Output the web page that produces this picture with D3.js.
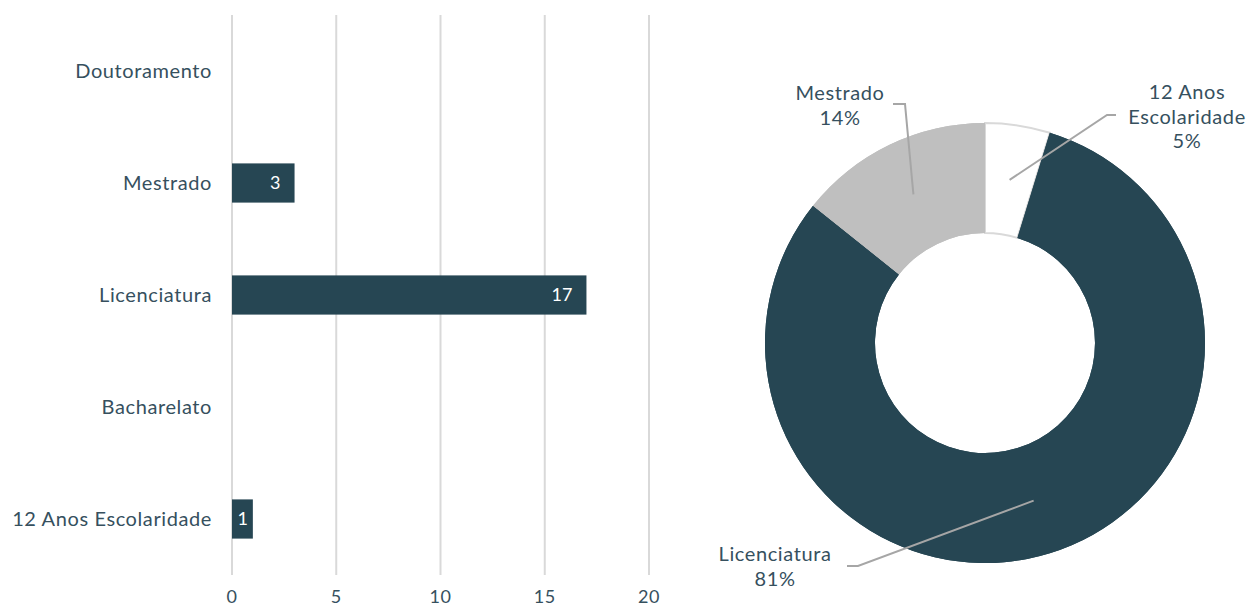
<!DOCTYPE html>
<html><head><meta charset="utf-8">
<script src="https://cdn.jsdelivr.net/npm/d3@7"></script>
<style>body{margin:0;background:#fff}svg{display:block}text{font-family:Lato,"Open Sans",sans-serif}</style>
</head><body>
<svg id="c" width="1251" height="609"></svg>
<script>
const categories = ["Doutoramento","Mestrado","Licenciatura","Bacharelato","12 Anos Escolaridade"];
const counts = [0,3,17,0,1];
const xTicks = [0,5,10,15,20];
const pieOrder = ["12 Anos Escolaridade","Bacharelato","Licenciatura","Doutoramento","Mestrado"];
const pieLabels = {"12 Anos Escolaridade":["12 Anos","Escolaridade"],"Mestrado":["Mestrado"],"Licenciatura":["Licenciatura"]};

const dark = "#264653", textCol = "#36505e", grid = "#d9d9d9";
const svg = d3.select("#c");
const fs = 20, ls = "0.6px";

// Bar chart
const x = d3.scaleLinear().domain([0,20]).range([232,649]);
const y = d3.scaleBand().domain(categories).range([15,575]).paddingInner(0.65).paddingOuter(0.325);
const g = svg.append("g");
g.selectAll("line.grid").data(xTicks).join("line")
  .attr("x1",d=>x(d)).attr("x2",d=>x(d)).attr("y1",15).attr("y2",575)
  .attr("stroke",grid).attr("stroke-width",2);
g.selectAll("text.tick").data(xTicks).join("text")
  .attr("x",d=>x(d)).attr("y",603).attr("text-anchor","middle")
  .attr("fill",textCol).attr("font-size",18).attr("letter-spacing","0.5px").text(d=>d);
g.selectAll("text.cat").data(categories).join("text")
  .attr("x",212).attr("y",d=>y(d)+y.bandwidth()/2).attr("dy","0.35em")
  .attr("text-anchor","end").attr("fill",textCol).attr("font-size",fs).attr("letter-spacing",ls).text(d=>d);
const bd = categories.map((c,i)=>({c,v:counts[i]})).filter(d=>d.v>0);
g.selectAll("rect").data(bd).join("rect")
  .attr("x",x(0)).attr("y",d=>y(d.c)).attr("width",d=>x(d.v)-x(0)).attr("height",y.bandwidth())
  .attr("fill",dark);
g.selectAll("text.val").data(bd).join("text")
  .attr("x",d=>x(d.v)-(d.v<2?5:14)).attr("y",d=>y(d.c)+y.bandwidth()/2).attr("dy","0.35em")
  .attr("text-anchor","end").attr("fill","#fff").attr("font-size",18).text(d=>d.v);

// Donut
const cx=985, cy=343, R=220, r0=110;
const total = d3.sum(counts);
const pdata = pieOrder.map(c=>({c,v:counts[categories.indexOf(c)]}));
const pie = d3.pie().sort(null).value(d=>d.v)(pdata);
const arc = d3.arc().innerRadius(r0).outerRadius(R);
const colors = {"12 Anos Escolaridade":"#ffffff","Licenciatura":dark,"Mestrado":"#bfbfbf","Bacharelato":"#888","Doutoramento":"#555"};
const pg = svg.append("g").attr("transform",`translate(${cx},${cy})`);
pg.selectAll("path").data(pie.filter(d=>d.data.v>0)).join("path")
  .attr("d",arc).attr("fill",d=>colors[d.data.c])
  .attr("stroke",d=>d.data.c==="12 Anos Escolaridade"?"#d9d9d9":"none").attr("stroke-width",2);
pg.selectAll("path.top").data(pie.filter(d=>d.data.v>0 && d.data.c!=="12 Anos Escolaridade")).join("path")
  .attr("d",arc).attr("fill",d=>colors[d.data.c]);

const labelLayout = {
  "Mestrado":{elbow:[905,104],end:[893,104],tx:840,ty:93},
  "12 Anos Escolaridade":{elbow:[1107,115],end:[1116,115],tx:1187,ty:92},
  "Licenciatura":{elbow:[858,566],end:[847,566],tx:775,ty:554}
};
const lg = svg.append("g");
pie.filter(d=>d.data.v>0).forEach(d=>{
  const L = labelLayout[d.data.c];
  const c = arc.centroid(d);
  const p0 = [cx+c[0], cy+c[1]];
  lg.append("polyline").attr("points",[p0,L.elbow,L.end].map(p=>p.join(",")).join(" "))
    .attr("fill","none").attr("stroke","#a6a6a6").attr("stroke-width",2);
  const lines = pieLabels[d.data.c].concat([Math.round(d.data.v/total*100)+"%"]);
  const t = lg.append("text").attr("text-anchor","middle").attr("fill",textCol).attr("font-size",fs).attr("letter-spacing",ls);
  lines.forEach((s,i)=>t.append("tspan").attr("x",L.tx).attr("y",L.ty+i*24.5).attr("dy","0.35em").text(s));
});
</script>
</body></html>
